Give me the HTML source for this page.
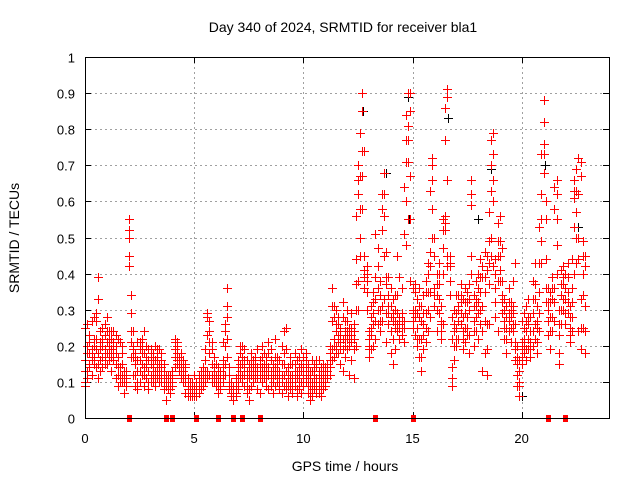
<!DOCTYPE html>
<html><head><meta charset="utf-8"><style>
html,body{margin:0;padding:0;background:#fff}
svg{display:block;font-family:"Liberation Sans",sans-serif}
</style></head><body>
<svg id="chart" width="640" height="480" viewBox="0 0 640 480" xmlns="http://www.w3.org/2000/svg">
<rect width="640" height="480" fill="#fff"/>
<text x="343" y="32" font-size="14" text-anchor="middle">Day 340 of 2024, SRMTID for receiver bla1</text>
<text x="345" y="471" font-size="14" text-anchor="middle">GPS time / hours</text>
<text transform="translate(19,238) rotate(-90)" font-size="14" text-anchor="middle">SRMTID / TECUs</text>
<g id="grid"></g><g id="axes"></g><g id="black" shape-rendering="crispEdges"></g><g id="red" shape-rendering="crispEdges"></g><g id="frame"></g>
</svg>
<script>
const xTicks=[0,5,10,15,20];
const yTicks=[0,0.1,0.2,0.3,0.4,0.5,0.6,0.7,0.8,0.9,1];
const yTickLabels=["0","0.1","0.2","0.3","0.4","0.5","0.6","0.7","0.8","0.9","1"];
const zeroTimes=[2.0,3.7,4.0,5.1,6.1,6.8,7.2,8.0,13.3,15.0,21.2,22.0];
const redRows=[
[0.0,.10,.16,.25,.09,.13],[0.1,.13,.20,.26,.18,.11],[0.2,.15,.18,.23,.21,.14],[0.3,.12,.17,.27,.19,.16],[0.4,.15,.22,.28,.17,.20],[0.5,.14,.19,.29,.27,.22],[0.6,.11,.33,.39,.15,.18],[0.7,.16,.24,.21,.13,.19],[0.8,.14,.25,.20,.22,.17],[0.9,.17,.23,.26,.19,.15],
[1.0,.15,.21,.28,.18,.24],[1.1,.18,.20,.24,.16,.22],[1.2,.13,.19,.22,.17,.24],[1.3,.16,.24,.20,.18,.21],[1.4,.11,.18,.23,.15,.20],[1.5,.09,.12,.17,.22,.14],[1.6,.10,.14,.21,.12,.11],[1.7,.12,.18,.15,.20,.10],[1.8,.10,.07,.13,.12,.11],[1.9,.11,.12,.09,.10,.13],
[2.0,.42,.50,.55,.45,.52],[2.1,.17,.29,.34,.21,.24],[2.2,.12,.19,.24,.17,.20],[2.3,.09,.15,.18,.12,.17],[2.4,.08,.13,.21,.10,.16],[2.5,.10,.16,.19,.13,.21],[2.6,.12,.18,.22,.15,.20],[2.7,.09,.14,.24,.12,.18],[2.8,.11,.17,.20,.14,.16],[2.9,.08,.13,.16,.10,.19],
[3.0,.10,.15,.19,.12,.17],[3.1,.12,.14,.18,.10,.16],[3.2,.09,.16,.20,.13,.11],[3.3,.11,.13,.17,.15,.19],[3.4,.10,.15,.19,.12,.14],[3.5,.12,.14,.16,.18,.10],[3.6,.08,.10,.13,.15,.11],[3.7,.05,.11,.09,.12,.10],[3.8,.09,.12,.10,.11,.08],[3.9,.07,.11,.08,.10,.12],
[4.0,.10,.13,.11,.09,.12],[4.1,.14,.19,.22,.17,.21],[4.2,.16,.20,.21,.18,.15],[4.3,.13,.17,.15,.14,.16],[4.4,.11,.14,.18,.12,.16],[4.5,.10,.13,.16,.12,.15],[4.6,.07,.12,.15,.10,.14],[4.7,.06,.08,.11,.09,.07],[4.8,.07,.09,.06,.08,.10],[4.9,.06,.08,.10,.07,.09],
[5.0,.07,.09,.12,.06,.08],[5.1,.06,.10,.08,.07,.09],[5.2,.07,.12,.11,.08,.10],[5.3,.08,.13,.10,.09,.12],[5.4,.09,.14,.12,.11,.10],[5.5,.11,.16,.19,.13,.10],[5.6,.13,.23,.29,.11,.28],[5.7,.12,.24,.27,.21,.18],[5.8,.10,.21,.15,.12,.19],[5.9,.11,.14,.17,.13,.10],
[6.0,.09,.12,.15,.11,.10],[6.1,.07,.10,.14,.09,.12],[6.2,.08,.11,.13,.10,.09],[6.3,.10,.16,.21,.14,.12],[6.4,.12,.24,.26,.15,.20],[6.5,.17,.31,.36,.22,.28],[6.6,.10,.14,.08,.09,.12],[6.7,.07,.09,.06,.08,.10],[6.8,.05,.08,.07,.06,.09],[6.9,.06,.09,.11,.07,.08],
[7.0,.08,.12,.14,.10,.16],[7.1,.11,.15,.18,.13,.20],[7.2,.10,.17,.20,.12,.15],[7.3,.09,.14,.19,.12,.16],[7.4,.07,.13,.16,.11,.09],[7.5,.05,.11,.15,.08,.13],[7.6,.09,.14,.18,.12,.16],[7.7,.10,.13,.16,.12,.15],[7.8,.11,.15,.17,.13,.14],[7.9,.08,.12,.19,.14,.11],
[8.0,.07,.13,.16,.11,.14],[8.1,.10,.14,.20,.12,.17],[8.2,.12,.15,.18,.13,.11],[8.3,.09,.13,.17,.15,.11],[8.4,.08,.14,.21,.12,.18],[8.5,.11,.16,.19,.13,.09],[8.6,.07,.12,.15,.10,.13],[8.7,.09,.14,.22,.12,.17],[8.8,.10,.13,.17,.12,.15],[8.9,.08,.11,.16,.13,.10],
[9.0,.07,.12,.20,.10,.15],[9.1,.09,.15,.24,.12,.18],[9.2,.10,.13,.25,.08,.19],[9.3,.06,.11,.14,.09,.12],[9.4,.08,.12,.17,.10,.15],[9.5,.07,.10,.15,.12,.09],[9.6,.09,.13,.18,.11,.15],[9.7,.06,.11,.16,.08,.13],[9.8,.08,.12,.14,.10,.17],[9.9,.07,.13,.19,.10,.15],
[10.0,.09,.12,.17,.11,.14],[10.1,.10,.14,.18,.12,.16],[10.2,.07,.11,.15,.09,.13],[10.3,.05,.09,.13,.07,.11],[10.4,.06,.10,.16,.08,.13],[10.5,.08,.12,.15,.10,.14],[10.6,.07,.11,.14,.09,.16],[10.7,.09,.13,.16,.11,.07],[10.8,.06,.10,.12,.08,.14],[10.9,.08,.11,.15,.10,.13],
[11.0,.09,.12,.14,.10,.13],[11.1,.11,.13,.15,.12,.14],[11.2,.14,.18,.20,.16,.12],[11.3,.16,.27,.36,.19,.31],[11.4,.17,.22,.31,.20,.28],[11.5,.20,.26,.30,.18,.24],[11.6,.18,.23,.28,.21,.26],[11.7,.15,.21,.25,.19,.23],[11.8,.13,.19,.32,.22,.28],[11.9,.17,.22,.27,.20,.24],
[12.0,.19,.24,.30,.22,.27],[12.1,.12,.20,.25,.22,.23],[12.2,.16,.23,.29,.21,.25],[12.3,.11,.19,.26,.22,.24],[12.4,.20,.44,.56,.30,.37],[12.5,.30,.62,.70,.38,.66],[12.6,.50,.67,.79,.58,.45],[12.7,.85,.90,.58,.67,.74],[12.8,.39,.45,.74,.41,.36],[12.9,.35,.40,.42,.38,.30],
[13.0,.17,.20,.24,.19,.22],[13.1,.19,.25,.31,.23,.28],[13.2,.20,.29,.35,.26,.32],[13.3,.22,.39,.51,.27,.33],[13.4,.26,.42,.47,.30,.36],[13.5,.24,.30,.38,.27,.34],[13.6,.27,.52,.62,.31,.58],[13.7,.33,.56,.68,.45,.62],[13.8,.21,.37,.46,.29,.39],[13.9,.26,.31,.39,.29,.34],
[14.0,.18,.28,.36,.24,.31],[14.1,.15,.22,.33,.27,.29],[14.2,.19,.27,.30,.25,.34],[14.3,.24,.34,.45,.29,.26],[14.4,.22,.28,.39,.26,.25],[14.5,.25,.29,.36,.27,.23],[14.6,.21,.27,.64,.25,.51],[14.7,.48,.71,.84,.60,.77],[14.8,.77,.81,.90,.55,.71],[14.9,.55,.67,.90,.85,.38],
[15.0,.27,.29,.36,.25,.30],[15.1,.23,.30,.37,.28,.35],[15.2,.20,.25,.33,.29,.22],[15.3,.17,.28,.36,.22,.31],[15.4,.13,.22,.31,.17,.27],[15.5,.19,.26,.34,.23,.29],[15.6,.21,.29,.38,.25,.35],[15.7,.24,.35,.43,.30,.40],[15.8,.28,.46,.63,.35,.42],[15.9,.58,.66,.72,.50,.70],
[16.0,.31,.36,.50,.34,.45],[16.1,.24,.34,.40,.30,.37],[16.2,.29,.37,.43,.33,.40],[16.3,.22,.27,.31,.26,.24],[16.4,.26,.47,.55,.40,.52],[16.5,.52,.77,.86,.56,.54],[16.6,.66,.89,.91,.42,.45],[16.7,.34,.42,.45,.38,.43],[16.8,.09,.14,.22,.11,.28],[16.9,.16,.26,.30,.20,.24],
[17.0,.20,.25,.29,.22,.34],[17.1,.22,.31,.34,.27,.30],[17.2,.26,.32,.37,.29,.34],[17.3,.19,.24,.33,.22,.28],[17.4,.21,.29,.36,.25,.32],[17.5,.23,.28,.32,.35,.25],[17.6,.18,.30,.37,.23,.33],[17.7,.45,.59,.66,.62,.40],[17.8,.20,.27,.34,.24,.31],[17.9,.24,.31,.38,.28,.33],
[18.0,.22,.32,.40,.36,.29],[18.1,.26,.35,.44,.39,.30],[18.2,.13,.24,.39,.31,.42],[18.3,.18,.27,.46,.35,.39],[18.4,.12,.19,.41,.26,.45],[18.5,.26,.49,.57,.37,.43],[18.6,.63,.70,.77,.50,.45],[18.7,.60,.73,.79,.66,.42],[18.8,.28,.36,.44,.40,.32],[18.9,.24,.45,.54,.38,.49],
[19.0,.38,.49,.56,.45,.41],[19.1,.29,.34,.47,.38,.32],[19.2,.22,.27,.33,.30,.25],[19.3,.18,.25,.31,.28,.22],[19.4,.24,.29,.36,.27,.32],[19.5,.21,.28,.32,.25,.30],[19.6,.26,.31,.38,.24,.29],[19.7,.16,.21,.43,.19,.26],[19.8,.09,.12,.20,.15,.17],[19.9,.06,.10,.16,.09,.13],
[20.0,.15,.19,.27,.17,.21],[20.1,.18,.22,.29,.20,.25],[20.2,.16,.24,.31,.19,.27],[20.3,.19,.26,.33,.22,.28],[20.4,.17,.21,.28,.19,.24],[20.5,.20,.29,.38,.24,.33],[20.6,.22,.33,.43,.26,.37],[20.7,.18,.25,.31,.21,.27],[20.8,.24,.35,.53,.29,.43],[20.9,.49,.62,.73,.55,.43],
[21.0,.68,.76,.88,.73,.82],[21.1,.32,.44,.55,.36,.60],[21.2,.23,.30,.36,.27,.32],[21.3,.19,.28,.35,.24,.32],[21.4,.24,.33,.39,.28,.36],[21.5,.27,.36,.64,.32,.58],[21.6,.40,.55,.66,.48,.62],[21.7,.15,.23,.30,.18,.26],[21.8,.26,.34,.41,.30,.37],[21.9,.30,.37,.42,.33,.39],
[22.0,.26,.33,.40,.29,.36],[22.1,.29,.35,.43,.32,.39],[22.2,.21,.25,.31,.23,.28],[22.3,.24,.32,.44,.28,.36],[22.4,.53,.61,.66,.40,.63],[22.5,.43,.63,.69,.50,.57],[22.6,.24,.50,.72,.44,.62],[22.7,.19,.33,.67,.25,.71],[22.8,.25,.40,.49,.34,.45],[22.9,.18,.31,.45,.24,.42]
];
const blackPoints=[[12.7,0.90],[12.72,0.85],[13.8,0.68],[14.8,0.89],[14.85,0.55],[16.6,0.91],[16.62,0.83],[18.6,0.69],[21.0,0.76],[21.05,0.70],[2.0,0.55],[2.02,0.52],[20.0,0.06],[22.6,0.53],[18.0,0.55]];

const NS="http://www.w3.org/2000/svg";
const X0=85,X1=609,Y0=418,Y1=57,XMAX=24;
const xs=t=>X0+(X1-X0)*t/XMAX;
const ys=v=>Y0-(Y0-Y1)*v;
function mk(tag,attrs,parent){const e=document.createElementNS(NS,tag);for(const k in attrs)e.setAttribute(k,attrs[k]);parent.appendChild(e);return e;}
const grid=document.getElementById('grid'),axes=document.getElementById('axes');
xTicks.forEach(t=>{
  const x=Math.round(xs(t))+0.5;
  if(t>0){const g=mk('line',{x1:x,x2:x,y1:Y1,y2:Y0,stroke:'#a0a0a0','stroke-dasharray':'2,3'},grid);
  
  }
  const tk=mk('path',{d:`M${x} ${Y0}v-6M${x} ${Y1}v6`,stroke:'#000'},axes);
  
  
  const lb=mk('text',{x:xs(t),y:443,'font-size':13,'text-anchor':'middle'},axes);lb.textContent=String(t);
  
  
});
yTicks.forEach((v,i)=>{
  const y=Math.round(ys(v))+0.5;
  if(v>0&&v<1){const g=mk('line',{x1:X0,x2:X1,y1:y,y2:y,stroke:'#a0a0a0','stroke-dasharray':'2,3'},grid);
  
  }
  const tk=mk('path',{d:`M${X0} ${y}h6M${X1} ${y}h-6`,stroke:'#000'},axes);
  
  
  const lb=mk('text',{x:75,y:y+5,'font-size':13,'text-anchor':'end'},axes);lb.textContent=yTickLabels[i];
  
  
});
function cross(g,t,v,color,name){
  const x=Math.round(xs(t)),y=Math.round(ys(v));
  const p=mk('path',{d:`M${x-4} ${y}h9v1h-9zM${x} ${y-4}h1v9h-1z`,fill:color},g);
  
  
}
const bg=document.getElementById('black'),rg=document.getElementById('red');
blackPoints.forEach(p=>cross(bg,p[0],p[1],'#000000','black-point'));
redRows.forEach(r=>{for(let i=1;i<r.length;i++)cross(rg,r[0],r[i],'#ff0000','red-point');});
zeroTimes.forEach(t=>{
  const r=mk('rect',{x:Math.round(xs(t))-2,y:Y0-3,width:5,height:7,fill:'#ff0000'},rg);
  
  
});
const f=mk('rect',{x:X0+0.5,y:Y1+0.5,width:X1-X0,height:Y0-Y1,fill:'none',stroke:'#000'},document.getElementById('frame'));


</script>
</body></html>
